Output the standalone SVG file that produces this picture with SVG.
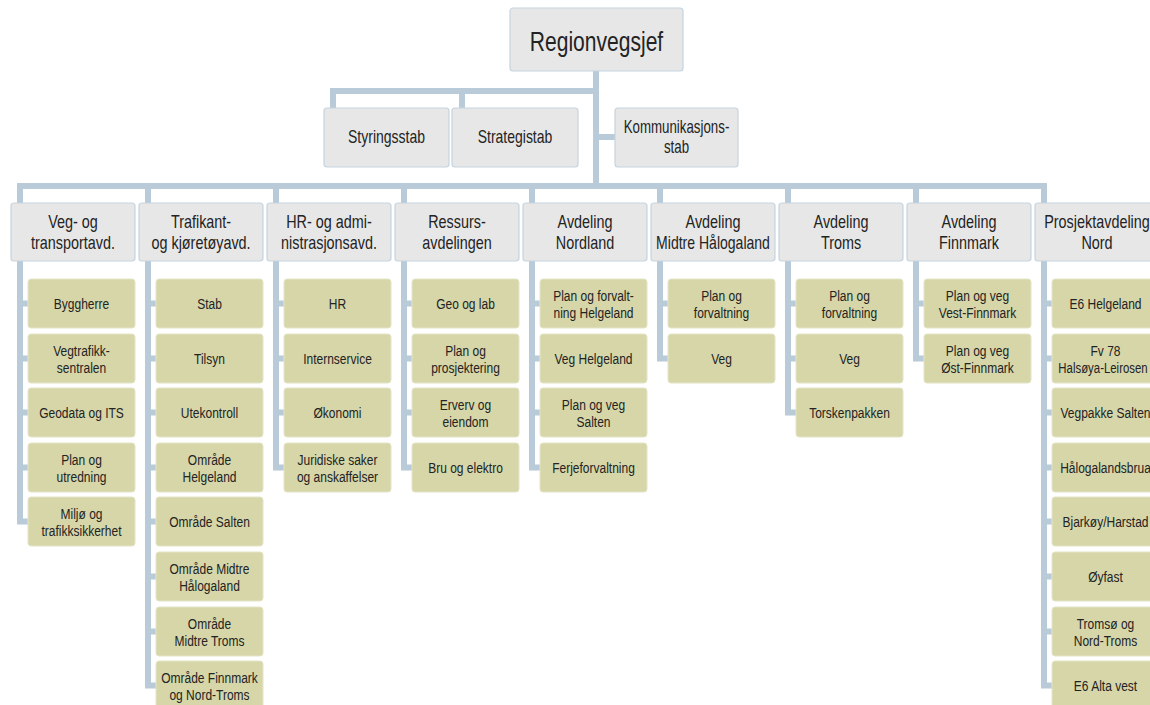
<svg xmlns="http://www.w3.org/2000/svg" width="1150" height="705" viewBox="0 0 1150 705">
  <style>
    text { font-family: "Liberation Sans", Arial, sans-serif; text-anchor: middle; fill: #232323; }
    .top { font-size: 27px; }
    .staff { font-size: 17.5px; }
    .dept { font-size: 18px; }
    .unit { font-size: 15px; }
    .gray { fill: #e7e7e7; stroke: #c6d4e0; stroke-width: 1.2; }
    .olive { fill: #d6d6a9; stroke: #e4e4c8; stroke-width: 1; }
    .wire { fill: none; stroke: #b9cad8; stroke-width: 6; stroke-linejoin: miter; }
  </style>

  <!-- connectors -->
  <g id="connectors" class="wire">
    <path d="M596 71 V186"/>
    <path d="M333 108 V91 H596"/>
    <path d="M462 91 V108"/>
    <path d="M596 137 H615"/>
    <path d="M20 203 V186 H1044 V203"/>
    <path d="M148 186 V203"/>
    <path d="M276 186 V203"/>
    <path d="M404 186 V203"/>
    <path d="M532 186 V203"/>
    <path d="M660 186 V203"/>
    <path d="M788 186 V203"/>
    <path d="M916 186 V203"/>
    <!-- column spines -->
    <path d="M20 261 V521.5 H28"/>
    <path d="M17 303.5 H28 M17 358.5 H28 M17 412.5 H28 M17 467.5 H28"/>
    <path d="M148 261 V685.5 H156"/>
    <path d="M145 303.5 H156 M145 358.5 H156 M145 412.5 H156 M145 467.5 H156 M145 521.5 H156 M145 576.5 H156 M145 631.5 H156"/>
    <path d="M276 261 V467.5 H284"/>
    <path d="M273 303.5 H284 M273 358.5 H284 M273 412.5 H284"/>
    <path d="M404 261 V467.5 H412"/>
    <path d="M401 303.5 H412 M401 358.5 H412 M401 412.5 H412"/>
    <path d="M532 261 V467.5 H540"/>
    <path d="M529 303.5 H540 M529 358.5 H540 M529 412.5 H540"/>
    <path d="M660 261 V358.5 H668"/>
    <path d="M657 303.5 H668"/>
    <path d="M788 261 V412.5 H796"/>
    <path d="M785 303.5 H796 M785 358.5 H796"/>
    <path d="M916 261 V358.5 H924"/>
    <path d="M913 303.5 H924"/>
    <path d="M1044 261 V685.5 H1052"/>
    <path d="M1041 303.5 H1052 M1041 358.5 H1052 M1041 412.5 H1052 M1041 467.5 H1052 M1041 521.5 H1052 M1041 576.5 H1052 M1041 631.5 H1052"/>
  </g>

  <!-- top level -->
  <g id="regionvegsjef">
    <rect class="gray" x="510" y="8" width="173" height="63" rx="3"/>
    <text class="top" transform="translate(596.5 51) scale(.78 1)">Regionvegsjef</text>
  </g>
  <g id="styringsstab">
    <rect class="gray" x="324" y="108" width="125" height="59" rx="3"/>
    <text class="staff" transform="translate(386.5 143) scale(.8 1)">Styringsstab</text>
  </g>
  <g id="strategistab">
    <rect class="gray" x="452" y="108" width="126" height="59" rx="3"/>
    <text class="staff" transform="translate(515 143) scale(.8 1)">Strategistab</text>
  </g>
  <g id="kommunikasjonsstab">
    <rect class="gray" x="615" y="108" width="123" height="59" rx="3"/>
    <text class="staff" transform="translate(676.5 133) scale(.76 1)">Kommunikasjons-</text>
    <text class="staff" transform="translate(676.5 153) scale(.76 1)">stab</text>
  </g>

  <!-- departments -->
  <g id="veg-og-transport">
    <rect class="gray" x="11" y="203" width="124" height="58" rx="3"/>
    <text class="dept" transform="translate(73 228) scale(.8 1)">Veg- og</text>
    <text class="dept" transform="translate(73 249) scale(.8 1)">transportavd.</text>
  </g>
  <g id="trafikant">
    <rect class="gray" x="139" y="203" width="124" height="58" rx="3"/>
    <text class="dept" transform="translate(201 228) scale(.8 1)">Trafikant-</text>
    <text class="dept" transform="translate(201 249) scale(.8 1)">og kjøretøyavd.</text>
  </g>
  <g id="hr-admin">
    <rect class="gray" x="267" y="203" width="124" height="58" rx="3"/>
    <text class="dept" transform="translate(329 228) scale(.8 1)">HR- og admi-</text>
    <text class="dept" transform="translate(329 249) scale(.8 1)">nistrasjonsavd.</text>
  </g>
  <g id="ressurs">
    <rect class="gray" x="395" y="203" width="124" height="58" rx="3"/>
    <text class="dept" transform="translate(457 228) scale(.8 1)">Ressurs-</text>
    <text class="dept" transform="translate(457 249) scale(.8 1)">avdelingen</text>
  </g>
  <g id="nordland">
    <rect class="gray" x="523" y="203" width="124" height="58" rx="3"/>
    <text class="dept" transform="translate(585 228) scale(.8 1)">Avdeling</text>
    <text class="dept" transform="translate(585 249) scale(.8 1)">Nordland</text>
  </g>
  <g id="midtre-haalogaland">
    <rect class="gray" x="651" y="203" width="124" height="58" rx="3"/>
    <text class="dept" transform="translate(713 228) scale(.8 1)">Avdeling</text>
    <text class="dept" transform="translate(713 249) scale(.78 1)">Midtre Hålogaland</text>
  </g>
  <g id="troms">
    <rect class="gray" x="779" y="203" width="124" height="58" rx="3"/>
    <text class="dept" transform="translate(841 228) scale(.8 1)">Avdeling</text>
    <text class="dept" transform="translate(841 249) scale(.8 1)">Troms</text>
  </g>
  <g id="finnmark">
    <rect class="gray" x="907" y="203" width="124" height="58" rx="3"/>
    <text class="dept" transform="translate(969 228) scale(.8 1)">Avdeling</text>
    <text class="dept" transform="translate(969 249) scale(.8 1)">Finnmark</text>
  </g>
  <g id="prosjekt-nord">
    <rect class="gray" x="1035" y="203" width="124" height="58" rx="3"/>
    <text class="dept" transform="translate(1097 228) scale(.8 1)">Prosjektavdeling</text>
    <text class="dept" transform="translate(1097 249) scale(.8 1)">Nord</text>
  </g>

  <!-- units: Veg- og transportavd. -->
  <g id="byggherre"><rect class="olive" x="28" y="279" width="107" height="49" rx="3"/><text class="unit" transform="translate(81.5 309) scale(.8 1)">Byggherre</text></g>
  <g id="vegtrafikksentralen"><rect class="olive" x="28" y="334" width="107" height="49" rx="3"/><text class="unit" transform="translate(81.5 355.5) scale(.8 1)">Vegtrafikk-</text><text class="unit" transform="translate(81.5 372.5) scale(.8 1)">sentralen</text></g>
  <g id="geodata"><rect class="olive" x="28" y="388" width="107" height="49" rx="3"/><text class="unit" transform="translate(81.5 418) scale(.8 1)">Geodata og ITS</text></g>
  <g id="plan-utredning"><rect class="olive" x="28" y="443" width="107" height="49" rx="3"/><text class="unit" transform="translate(81.5 464.5) scale(.8 1)">Plan og</text><text class="unit" transform="translate(81.5 481.5) scale(.8 1)">utredning</text></g>
  <g id="miljo"><rect class="olive" x="28" y="497" width="107" height="49" rx="3"/><text class="unit" transform="translate(81.5 518.5) scale(.8 1)">Miljø og</text><text class="unit" transform="translate(81.5 535.5) scale(.8 1)">trafikksikkerhet</text></g>

  <!-- units: Trafikant- og kjøretøyavd. -->
  <g id="stab"><rect class="olive" x="156" y="279" width="107" height="49" rx="3"/><text class="unit" transform="translate(209.5 309) scale(.8 1)">Stab</text></g>
  <g id="tilsyn"><rect class="olive" x="156" y="334" width="107" height="49" rx="3"/><text class="unit" transform="translate(209.5 364) scale(.8 1)">Tilsyn</text></g>
  <g id="utekontroll"><rect class="olive" x="156" y="388" width="107" height="49" rx="3"/><text class="unit" transform="translate(209.5 418) scale(.8 1)">Utekontroll</text></g>
  <g id="omr-helgeland"><rect class="olive" x="156" y="443" width="107" height="49" rx="3"/><text class="unit" transform="translate(209.5 464.5) scale(.8 1)">Område</text><text class="unit" transform="translate(209.5 481.5) scale(.8 1)">Helgeland</text></g>
  <g id="omr-salten"><rect class="olive" x="156" y="497" width="107" height="49" rx="3"/><text class="unit" transform="translate(209.5 527) scale(.8 1)">Område Salten</text></g>
  <g id="omr-midtre-haalogaland"><rect class="olive" x="156" y="552" width="107" height="49" rx="3"/><text class="unit" transform="translate(209.5 573.5) scale(.8 1)">Område Midtre</text><text class="unit" transform="translate(209.5 590.5) scale(.8 1)">Hålogaland</text></g>
  <g id="omr-midtre-troms"><rect class="olive" x="156" y="607" width="107" height="49" rx="3"/><text class="unit" transform="translate(209.5 628.5) scale(.8 1)">Område</text><text class="unit" transform="translate(209.5 645.5) scale(.8 1)">Midtre Troms</text></g>
  <g id="omr-finnmark"><rect class="olive" x="156" y="661" width="107" height="49" rx="3"/><text class="unit" transform="translate(209.5 682.5) scale(.8 1)">Område Finnmark</text><text class="unit" transform="translate(209.5 699.5) scale(.8 1)">og Nord-Troms</text></g>

  <!-- units: HR- og administrasjonsavd. -->
  <g id="hr"><rect class="olive" x="284" y="279" width="107" height="49" rx="3"/><text class="unit" transform="translate(337.5 309) scale(.8 1)">HR</text></g>
  <g id="internservice"><rect class="olive" x="284" y="334" width="107" height="49" rx="3"/><text class="unit" transform="translate(337.5 364) scale(.8 1)">Internservice</text></g>
  <g id="okonomi"><rect class="olive" x="284" y="388" width="107" height="49" rx="3"/><text class="unit" transform="translate(337.5 418) scale(.8 1)">Økonomi</text></g>
  <g id="juridiske"><rect class="olive" x="284" y="443" width="107" height="49" rx="3"/><text class="unit" transform="translate(337.5 464.5) scale(.8 1)">Juridiske saker</text><text class="unit" transform="translate(337.5 481.5) scale(.8 1)">og anskaffelser</text></g>

  <!-- units: Ressursavdelingen -->
  <g id="geo-lab"><rect class="olive" x="412" y="279" width="107" height="49" rx="3"/><text class="unit" transform="translate(465.5 309) scale(.8 1)">Geo og lab</text></g>
  <g id="plan-prosjektering"><rect class="olive" x="412" y="334" width="107" height="49" rx="3"/><text class="unit" transform="translate(465.5 355.5) scale(.8 1)">Plan og</text><text class="unit" transform="translate(465.5 372.5) scale(.8 1)">prosjektering</text></g>
  <g id="erverv"><rect class="olive" x="412" y="388" width="107" height="49" rx="3"/><text class="unit" transform="translate(465.5 409.5) scale(.8 1)">Erverv og</text><text class="unit" transform="translate(465.5 426.5) scale(.8 1)">eiendom</text></g>
  <g id="bru-elektro"><rect class="olive" x="412" y="443" width="107" height="49" rx="3"/><text class="unit" transform="translate(465.5 473) scale(.8 1)">Bru og elektro</text></g>

  <!-- units: Avdeling Nordland -->
  <g id="pf-helgeland"><rect class="olive" x="540" y="279" width="107" height="49" rx="3"/><text class="unit" transform="translate(593.5 300.5) scale(.8 1)">Plan og forvalt-</text><text class="unit" transform="translate(593.5 317.5) scale(.8 1)">ning Helgeland</text></g>
  <g id="veg-helgeland"><rect class="olive" x="540" y="334" width="107" height="49" rx="3"/><text class="unit" transform="translate(593.5 364) scale(.8 1)">Veg Helgeland</text></g>
  <g id="pv-salten"><rect class="olive" x="540" y="388" width="107" height="49" rx="3"/><text class="unit" transform="translate(593.5 409.5) scale(.8 1)">Plan og veg</text><text class="unit" transform="translate(593.5 426.5) scale(.8 1)">Salten</text></g>
  <g id="ferjeforvaltning"><rect class="olive" x="540" y="443" width="107" height="49" rx="3"/><text class="unit" transform="translate(593.5 473) scale(.8 1)">Ferjeforvaltning</text></g>

  <!-- units: Avdeling Midtre Hålogaland -->
  <g id="mh-plan"><rect class="olive" x="668" y="279" width="107" height="49" rx="3"/><text class="unit" transform="translate(721.5 300.5) scale(.8 1)">Plan og</text><text class="unit" transform="translate(721.5 317.5) scale(.8 1)">forvaltning</text></g>
  <g id="mh-veg"><rect class="olive" x="668" y="334" width="107" height="49" rx="3"/><text class="unit" transform="translate(721.5 364) scale(.8 1)">Veg</text></g>

  <!-- units: Avdeling Troms -->
  <g id="tr-plan"><rect class="olive" x="796" y="279" width="107" height="49" rx="3"/><text class="unit" transform="translate(849.5 300.5) scale(.8 1)">Plan og</text><text class="unit" transform="translate(849.5 317.5) scale(.8 1)">forvaltning</text></g>
  <g id="tr-veg"><rect class="olive" x="796" y="334" width="107" height="49" rx="3"/><text class="unit" transform="translate(849.5 364) scale(.8 1)">Veg</text></g>
  <g id="torskenpakken"><rect class="olive" x="796" y="388" width="107" height="49" rx="3"/><text class="unit" transform="translate(849.5 418) scale(.8 1)">Torskenpakken</text></g>

  <!-- units: Avdeling Finnmark -->
  <g id="vest-finnmark"><rect class="olive" x="924" y="279" width="107" height="49" rx="3"/><text class="unit" transform="translate(977.5 300.5) scale(.8 1)">Plan og veg</text><text class="unit" transform="translate(977.5 317.5) scale(.8 1)">Vest-Finnmark</text></g>
  <g id="ost-finnmark"><rect class="olive" x="924" y="334" width="107" height="49" rx="3"/><text class="unit" transform="translate(977.5 355.5) scale(.8 1)">Plan og veg</text><text class="unit" transform="translate(977.5 372.5) scale(.8 1)">Øst-Finnmark</text></g>

  <!-- units: Prosjektavdeling Nord -->
  <g id="e6-helgeland"><rect class="olive" x="1052" y="279" width="107" height="49" rx="3"/><text class="unit" transform="translate(1105.5 309) scale(.8 1)">E6 Helgeland</text></g>
  <g id="fv78"><rect class="olive" x="1052" y="334" width="107" height="49" rx="3"/><text class="unit" transform="translate(1105.5 355.5) scale(.8 1)">Fv 78</text><text class="unit" transform="translate(1103 372.5) scale(.76 1)">Halsøya-Leirosen</text></g>
  <g id="vegpakke-salten"><rect class="olive" x="1052" y="388" width="107" height="49" rx="3"/><text class="unit" transform="translate(1105.5 418) scale(.8 1)">Vegpakke Salten</text></g>
  <g id="haalogalandsbrua"><rect class="olive" x="1052" y="443" width="107" height="49" rx="3"/><text class="unit" transform="translate(1105.5 473) scale(.8 1)">Hålogalandsbrua</text></g>
  <g id="bjarkoy"><rect class="olive" x="1052" y="497" width="107" height="49" rx="3"/><text class="unit" transform="translate(1105.5 527) scale(.8 1)">Bjarkøy/Harstad</text></g>
  <g id="oyfast"><rect class="olive" x="1052" y="552" width="107" height="49" rx="3"/><text class="unit" transform="translate(1105.5 582) scale(.8 1)">Øyfast</text></g>
  <g id="tromso"><rect class="olive" x="1052" y="607" width="107" height="49" rx="3"/><text class="unit" transform="translate(1105.5 628.5) scale(.8 1)">Tromsø og</text><text class="unit" transform="translate(1105.5 645.5) scale(.8 1)">Nord-Troms</text></g>
  <g id="e6-alta"><rect class="olive" x="1052" y="661" width="107" height="49" rx="3"/><text class="unit" transform="translate(1105.5 691) scale(.8 1)">E6 Alta vest</text></g>
</svg>
